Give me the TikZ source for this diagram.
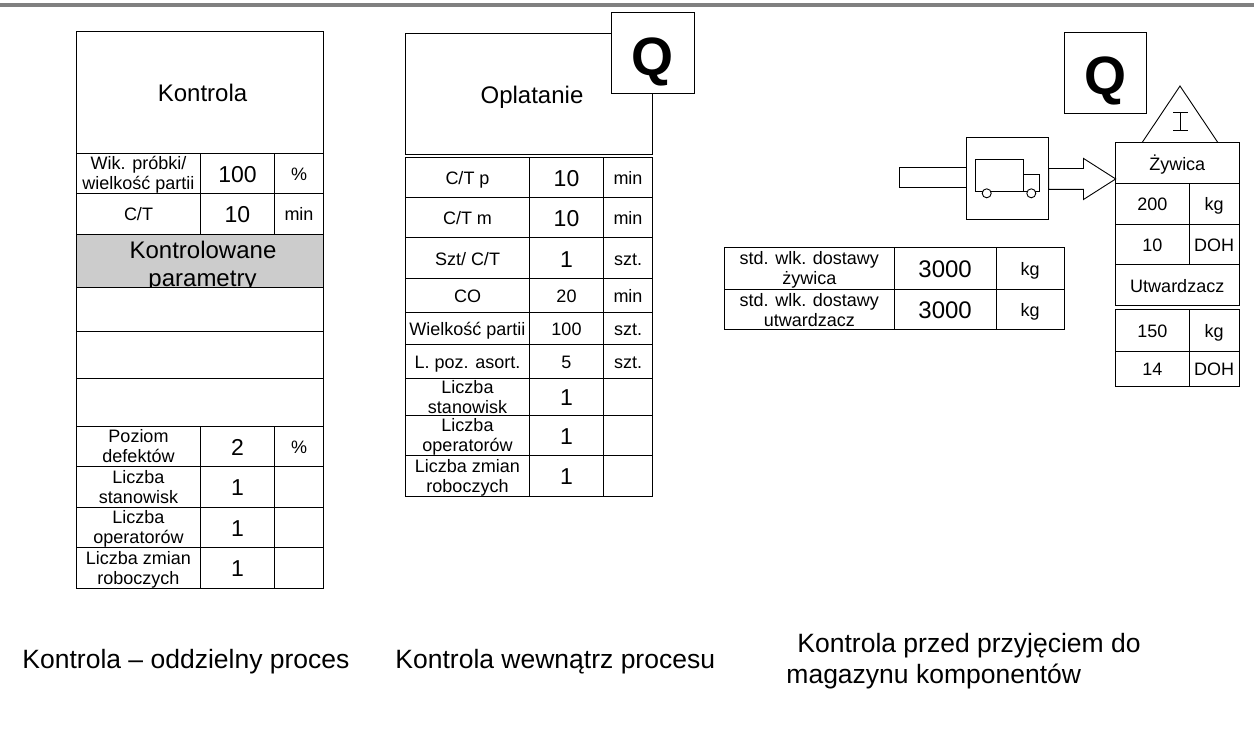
\documentclass[tikz,border=0pt]{standalone}
\usepackage{fontspec}
\setmainfont{Liberation Sans}
\usetikzlibrary{positioning,shapes.arrows}

\begin{document}
\begin{tikzpicture}[
            x=1pt, y=-1pt,
            line width=0.9pt,
            tbox/.style={draw, fill=white, align=center, inner sep=0pt, outer sep=0pt, font=\fontsize{18}{20}\selectfont},
            cell/.style={tbox, text height=14pt, text depth=0pt},
            lab/.style={tbox, text depth=-1pt},
            num/.style={tbox, text height=18pt, text depth=0pt, font=\fontsize{23}{26}\selectfont},
            title/.style={tbox, text height=19pt, text depth=0pt, font=\fontsize{24}{27}\selectfont},
            dim/.style 2 args={minimum width=#1pt, minimum height=#2pt},
            qbox/.style={tbox, dim={82.5}{81}, text height=44pt, text depth=0pt, font=\fontsize{54}{54}\selectfont\bfseries},
            caption/.style={align=left, anchor=west, inner sep=0pt, font=\fontsize{26.5}{31}\selectfont}
        ]
        \useasboundingbox (0,0) rectangle (1254,729);
        \fill[black!50] (0,3) rectangle (1254,7);

        % Kontrola
        \node (k1) [title, dim={247}{121.5}, anchor=north west] at (76.5,31.5) {\hspace*{5pt}Kontrola};
        \node (k2) [lab, dim={124}{40.5}, below right=0pt of k1.south west] {Wik. próbki/\\wielkość partii};
        \node (k2v) [num, dim={74}{40.5}, right=0pt of k2] {100};
        \node (k2u) [cell, dim={49}{40.5}, right=0pt of k2v] {\%};
        \node (k3) [cell, dim={124}{40.5}, below=0pt of k2] {C/T};
        \node (k3v) [num, dim={74}{40.5}, right=0pt of k3] {10};
        \node (k3u) [cell, dim={49}{40.5}, right=0pt of k3v] {min};
        \node (k4) [tbox, dim={247}{53.5}, fill=black!20, font=\fontsize{24}{28}\selectfont, text depth=-4.5pt, below right=0pt of k3.south west] {\rule{0pt}{24pt}\hspace*{6pt}Kontrolowane\\\hspace*{5pt}parametry};
        \node (k5) [tbox, dim={247}{43.5}, below=0pt of k4] {};
        \node (k6) [tbox, dim={247}{47.5}, below=0pt of k5] {};
        \node (k7) [tbox, dim={247}{47.5}, below=0pt of k6] {};
        \node (k8) [lab, dim={124}{40.5}, below right=0pt of k7.south west] {Poziom\\defektów};
        \node (k8v) [num, dim={74}{40.5}, right=0pt of k8] {2};
        \node (k8u) [cell, dim={49}{40.5}, right=0pt of k8v] {\%};
        \node (k9) [lab, dim={124}{40.5}, below=0pt of k8] {Liczba\\stanowisk};
        \node (k9v) [num, dim={74}{40.5}, right=0pt of k9] {1};
        \node (k9u) [tbox, dim={49}{40.5}, right=0pt of k9v] {};
        \node (k10) [lab, dim={124}{40.5}, below=0pt of k9] {Liczba\\operatorów};
        \node (k10v) [num, dim={74}{40.5}, right=0pt of k10] {1};
        \node (k10u) [tbox, dim={49}{40.5}, right=0pt of k10v] {};
        \node (k11) [lab, dim={124}{40.5}, below=0pt of k10] {Liczba zmian\\roboczych};
        \node (k11v) [num, dim={74}{40.5}, right=0pt of k11] {1};
        \node (k11u) [tbox, dim={49}{40.5}, right=0pt of k11v] {};

        % Oplatanie
        \node (o1) [title, dim={247}{121}, anchor=north west] at (405.5,33) {\hspace*{6pt}Oplatanie};
        \node (o2) [cell, dim={124}{40}, anchor=north west] at (405.5,157) {C/T p};
        \node (o2v) [num, dim={74}{40}, right=0pt of o2] {10};
        \node (o2u) [cell, dim={49}{40}, right=0pt of o2v] {min};
        \node (o3) [cell, dim={124}{40.5}, below right=0pt of o2.south west] {C/T m};
        \node (o3v) [num, dim={74}{40.5}, right=0pt of o3] {10};
        \node (o3u) [cell, dim={49}{40.5}, right=0pt of o3v] {min};
        \node (o4) [cell, dim={124}{41}, below right=0pt of o3.south west] {Szt/ C/T};
        \node (o4v) [num, dim={74}{41}, right=0pt of o4] {1};
        \node (o4u) [cell, dim={49}{41}, right=0pt of o4v] {szt.};
        \node (o5) [cell, dim={124}{34}, below right=0pt of o4.south west] {CO};
        \node (o5v) [cell, dim={74}{34}, right=0pt of o5] {20};
        \node (o5u) [cell, dim={49}{34}, right=0pt of o5v] {min};
        \node (o6) [cell, dim={124}{32}, below right=0pt of o5.south west] {Wielkość partii};
        \node (o6v) [cell, dim={74}{32}, right=0pt of o6] {100};
        \node (o6u) [cell, dim={49}{32}, right=0pt of o6v] {szt.};
        \node (o7) [cell, dim={124}{33.5}, below right=0pt of o6.south west] {L. poz. asort.};
        \node (o7v) [cell, dim={74}{33.5}, right=0pt of o7] {5};
        \node (o7u) [cell, dim={49}{33.5}, right=0pt of o7v] {szt.};
        \node (o8) [lab, dim={124}{37}, below right=0pt of o7.south west] {Liczba\\stanowisk};
        \node (o8v) [num, dim={74}{37}, right=0pt of o8] {1};
        \node (o8u) [tbox, dim={49}{37}, right=0pt of o8v] {};
        \node (o9) [lab, dim={124}{40.5}, below right=0pt of o8.south west] {Liczba\\operatorów};
        \node (o9v) [num, dim={74}{40.5}, right=0pt of o9] {1};
        \node (o9u) [tbox, dim={49}{40.5}, right=0pt of o9v] {};
        \node (o10) [lab, dim={124}{40.5}, below=0pt of o9] {Liczba zmian\\roboczych};
        \node (o10v) [num, dim={74}{40.5}, right=0pt of o10] {1};
        \node (o10u) [tbox, dim={49}{40.5}, right=0pt of o10v] {};
        \node (q1) [qbox, anchor=north west] at (611.5,12.5) {Q};

        % Dostawa
        \node (s1) [lab, dim={170}{41.5}, anchor=north west] at (724.3,247.7) {std. wlk. dostawy\\żywica};
        \node (s1v) [num, font=\fontsize{24}{26}\selectfont, dim={101.7}{41.5}, right=0pt of s1] {3000};
        \node (s1u) [cell, dim={68.3}{41.5}, right=0pt of s1v] {kg};
        \node (s2) [lab, dim={170}{40.7}, below right=0pt of s1.south west] {std. wlk. dostawy\\utwardzacz};
        \node (s2v) [num, font=\fontsize{24}{26}\selectfont, dim={101.7}{40.7}, right=0pt of s2] {3000};
        \node (s2u) [cell, dim={68.3}{40.7}, right=0pt of s2v] {kg};

        % Magazyn
        \node (q2) [qbox, anchor=north west] at (1064,32) {Q};
        \node (z1) [cell, dim={123.5}{40.6}, anchor=north west] at (1115.5,142.7) {Żywica};
        \node (z2) [cell, dim={73.8}{40.7}, below right=0pt of z1.south west] {200};
        \node (z2u) [cell, dim={49.7}{40.7}, right=0pt of z2] {kg};
        \node (z3) [cell, dim={73.8}{40.3}, below=0pt of z2] {10};
        \node (z3u) [cell, dim={49.7}{40.3}, right=0pt of z3] {DOH};
        \node (z4) [cell, dim={123.5}{41.4}, below right=0pt of z3.south west] {Utwardzacz};
        \node (z5) [cell, dim={73.8}{41.7}, anchor=north west] at (1115.5,309.3) {150};
        \node (z5u) [cell, dim={49.7}{41.7}, right=0pt of z5] {kg};
        \node (z6) [cell, dim={73.8}{35}, below=0pt of z5] {14};
        \node (z6u) [cell, dim={49.7}{35}, right=0pt of z6] {DOH};
        \draw (1142,142.7) -- (1180,86) -- (1218,142.7);
        \draw (1173,112.7) -- (1188,112.7) (1180.5,112.7) -- (1180.5,130) (1173,130) -- (1188,130);

        % Transport
        \node (truck) [tbox, dim={82.7}{81.3}, anchor=north west] at (966,137.7) {};
        \node (inflow) [tbox, dim={67}{20.7}, left=0pt of truck, yshift=1pt] {};
        \node (outflow) [draw, single arrow, inner xsep=0pt, inner ysep=10pt, outer sep=0pt, minimum height=67pt,
            single arrow head extend=10.1pt, single arrow tip angle=65, right=0pt of truck, yshift=-0.6pt] {};
        \node (body) [tbox, dim={47.6}{32}, anchor=north west] at (975.7,159.3) {};
        \node (cab) [tbox, dim={16}{17}, anchor=south west] at (body.south east) {};
        \node (wheel1) [tbox, circle, minimum size=9pt] at (986.7,193.3) {};
        \node (wheel2) [tbox, circle, minimum size=9pt] at (1031.3,193.3) {};

        % Podpisy
        \node (c1) [caption] at (22,662) {Kontrola – oddzielny proces};
        \node (c2) [caption] at (395,662) {Kontrola wewnątrz procesu};
        \node (c3) [caption] at (786,661) {\hspace*{11pt}Kontrola przed przyjęciem do\\magazynu komponentów};
        \end{tikzpicture}
\end{document}
